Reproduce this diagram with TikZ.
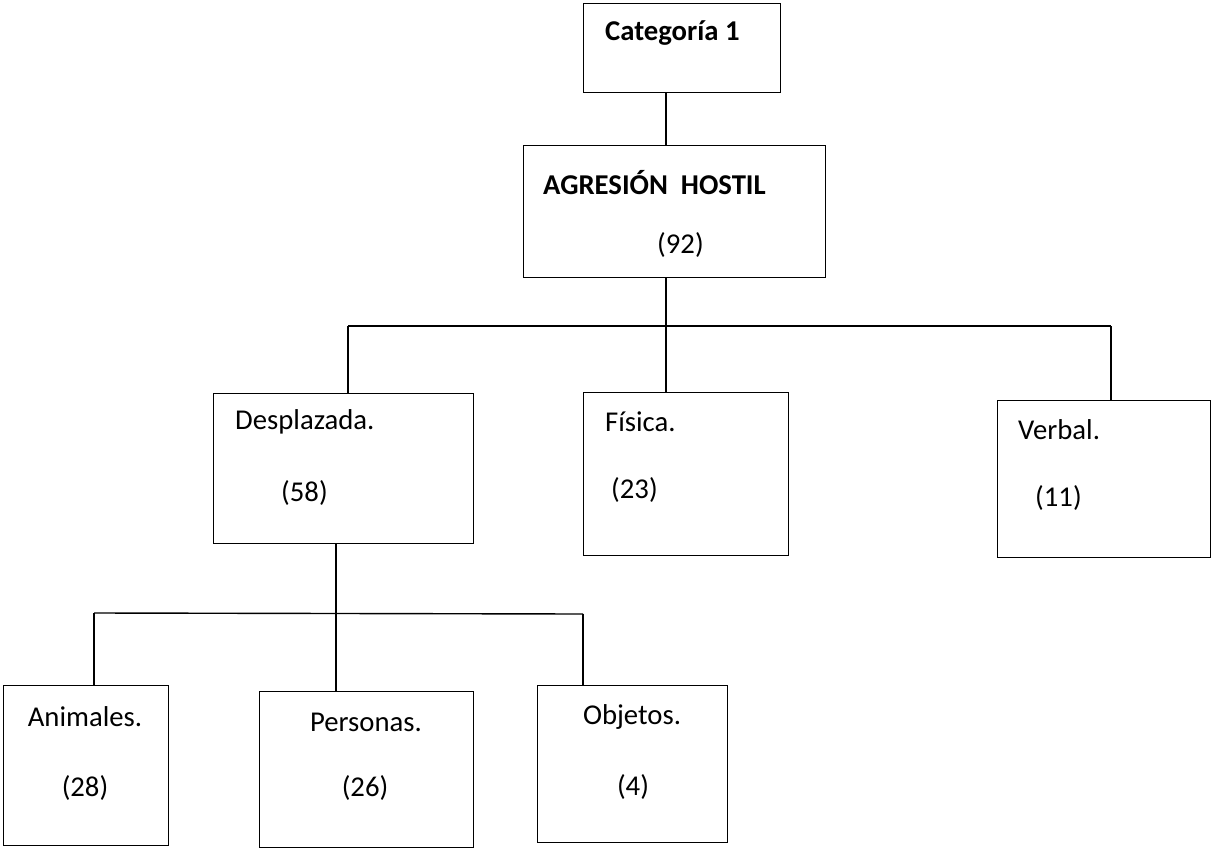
\documentclass[tikz,border=0pt]{standalone}
\usepackage{fontspec}
\setmainfont{Carlito}
\begin{document}
\begin{tikzpicture}[x=1pt,y=-1pt,
  box/.style={draw=black, line width=1.4pt, rectangle, anchor=north west, inner sep=0pt},
  lbl/.style={anchor=west, inner sep=0pt, font=\fontsize{28.7}{34}\selectfont},
  clbl/.style={anchor=center, inner sep=0pt, font=\fontsize{28.7}{34}\selectfont},
  conn/.style={draw=black, line width=1.4pt}]
\useasboundingbox (0,0) rectangle (1212,848);

% boxes
\node[box, minimum width=197pt, minimum height=89pt]  (cat) at (583,3)   {};
\node[box, minimum width=302pt, minimum height=132pt] (agr) at (523,145) {};
\node[box, minimum width=260pt, minimum height=150pt] (des) at (213,393) {};
\node[box, minimum width=205pt, minimum height=163pt] (fis) at (583,392) {};
\node[box, minimum width=213pt, minimum height=157pt] (ver) at (997,400) {};
\node[box, minimum width=165pt, minimum height=160pt] (ani) at (3,685)   {};
\node[box, minimum width=214pt, minimum height=156pt] (per) at (259,691) {};
\node[box, minimum width=190pt, minimum height=157pt] (obj) at (537,685) {};

% texts
\node[lbl, font=\fontsize{28.7}{34}\selectfont\bfseries] (tcat) at (605,33) {Categoría 1};
\node[lbl, font=\fontsize{28.7}{34}\selectfont\bfseries] (tagr) at (543,183) {AGRESIÓN\ \ HOSTIL};
\node[lbl] (nagr) at (657,245) {(92)};
\node[lbl] (tdes) at (235,422) {Desplazada.};
\node[lbl] (ndes) at (281,493) {(58)};
\node[lbl] (tfis) at (605,422) {Física.};
\node[lbl] (nfis) at (611,490) {(23)};
\node[lbl] (tver) at (1018,430) {Verbal.};
\node[lbl] (nver) at (1035,498) {(11)};
\node[clbl] (tani) at (85,717) {Animales.};
\node[clbl] (nani) at (85,788) {(28)};
\node[clbl] (tper) at (366,722) {Personas.};
\node[clbl] (nper) at (365,788) {(26)};
\node[clbl] (tobj) at (632,717) {Objetos.};
\node[clbl] (nobj) at (633,787) {(4)};

% junction points of the connectors
\coordinate (j1) at (666,326);
\coordinate (hl) at (348,326);
\coordinate (hr) at (1111,326);
\coordinate (j2) at (336,614);
\coordinate (bl) at (94,613);
\coordinate (br) at (583,614);

% connectors
\draw[conn] (cat.south -| j1) -- (agr.north -| j1);
\draw[conn] (agr.south -| j1) -- (fis.north -| j1);
\draw[conn] (hl) -- (hr);
\draw[conn] (hl) -- (hl |- des.north);
\draw[conn] (hr) -- (hr |- ver.north);
\draw[conn] (bl) -- (br);
\draw[conn] (bl) -- (bl |- ani.north);
\draw[conn] (br) -- (br |- obj.north);
\draw[conn] (des.south -| j2) -- (j2 |- per.north);
\end{tikzpicture}
\end{document}
